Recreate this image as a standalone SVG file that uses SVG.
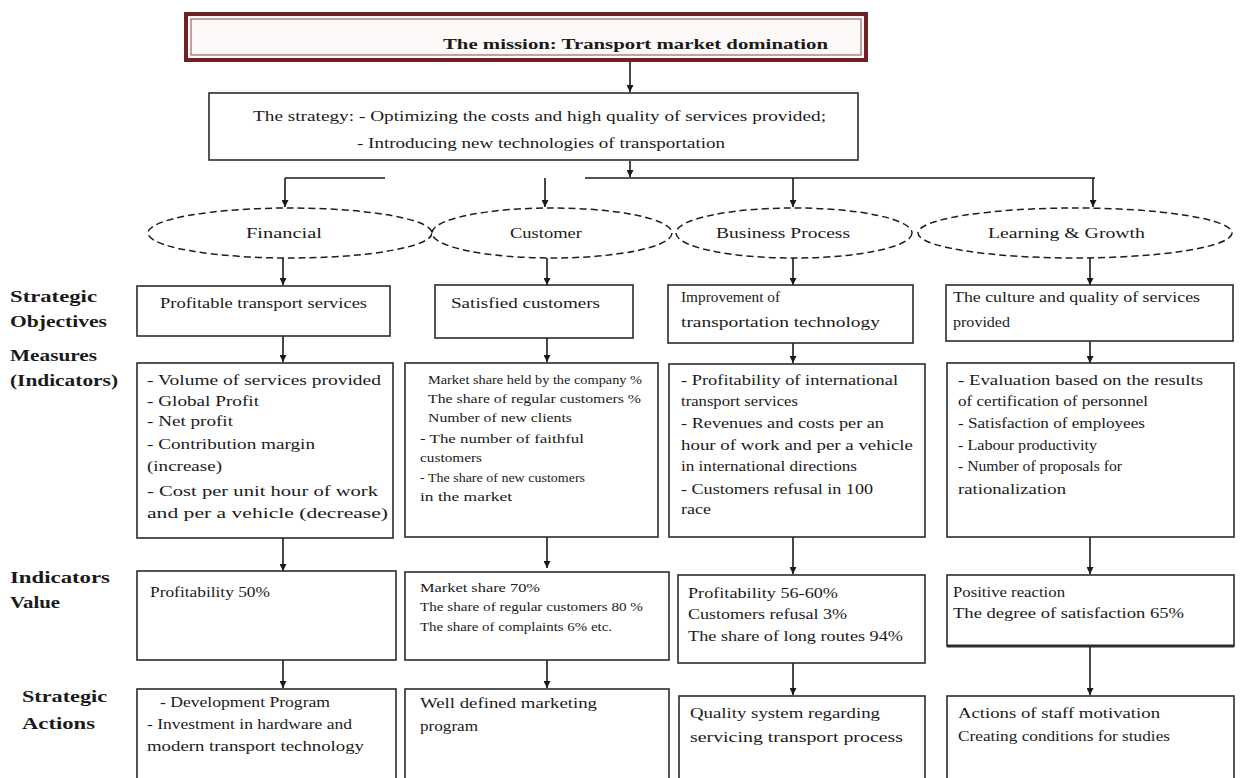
<svg xmlns="http://www.w3.org/2000/svg" width="1240" height="778" viewBox="0 0 1240 778">
<style>
.bg{fill:#ffffff}
.box{fill:#ffffff;stroke:#2b2b2b;stroke-width:1.6}
.ell{fill:#ffffff;stroke:#1e1e1e;stroke-width:1.5;stroke-dasharray:7 4}
.t{font-family:"Liberation Serif","Times New Roman",serif;font-size:14px;fill:#1a1a1a}
.s{font-family:"Liberation Serif","Times New Roman",serif;font-size:13px;fill:#1a1a1a}
.h{font-family:"Liberation Serif","Times New Roman",serif;font-size:16px;font-weight:bold;fill:#1a1a1a}
.m{font-family:"Liberation Serif","Times New Roman",serif;font-size:15px;font-weight:bold;fill:#1a1a1a}
.e{font-family:"Liberation Serif","Times New Roman",serif;font-size:15px;fill:#1a1a1a}
.c{fill:none;stroke:#1a1a1a;stroke-width:1.6}
</style>
<defs>
<marker id="ah" viewBox="0 0 10 10" refX="10" refY="5" markerWidth="7" markerHeight="7" orient="auto" markerUnits="userSpaceOnUse">
<path d="M0,0 L10,5 L0,10 z" fill="#1a1a1a"/>
</marker>
</defs>
<rect class="bg" x="0" y="0" width="1240" height="778"/>

<g id="connectors">
<line class="c" x1="630" y1="61" x2="630" y2="92" marker-end="url(#ah)"/>
<line class="c" x1="630" y1="161" x2="630" y2="177" marker-end="url(#ah)"/>
<line class="c" x1="285" y1="178" x2="385" y2="178"/>
<line class="c" x1="585" y1="178" x2="1095" y2="178"/>
<line class="c" x1="285" y1="178" x2="285" y2="207" marker-end="url(#ah)"/>
<line class="c" x1="545" y1="178" x2="545" y2="207" marker-end="url(#ah)"/>
<line class="c" x1="793" y1="178" x2="793" y2="207" marker-end="url(#ah)"/>
<line class="c" x1="1093" y1="178" x2="1093" y2="207" marker-end="url(#ah)"/>
<line class="c" x1="283" y1="258" x2="283" y2="285" marker-end="url(#ah)"/>
<line class="c" x1="547" y1="258" x2="547" y2="285" marker-end="url(#ah)"/>
<line class="c" x1="793" y1="258" x2="793" y2="285" marker-end="url(#ah)"/>
<line class="c" x1="1090" y1="258" x2="1090" y2="285" marker-end="url(#ah)"/>
<line class="c" x1="283" y1="336" x2="283" y2="362" marker-end="url(#ah)"/>
<line class="c" x1="547" y1="338" x2="547" y2="362" marker-end="url(#ah)"/>
<line class="c" x1="793" y1="343" x2="793" y2="363" marker-end="url(#ah)"/>
<line class="c" x1="1090" y1="341" x2="1090" y2="363" marker-end="url(#ah)"/>
<line class="c" x1="283" y1="538" x2="283" y2="571" marker-end="url(#ah)"/>
<line class="c" x1="547" y1="537" x2="547" y2="568" marker-end="url(#ah)"/>
<line class="c" x1="793" y1="537" x2="793" y2="574" marker-end="url(#ah)"/>
<line class="c" x1="1090" y1="537" x2="1090" y2="574" marker-end="url(#ah)"/>
<line class="c" x1="283" y1="660" x2="283" y2="688" marker-end="url(#ah)"/>
<line class="c" x1="547" y1="660" x2="547" y2="688" marker-end="url(#ah)"/>
<line class="c" x1="793" y1="663" x2="793" y2="695" marker-end="url(#ah)"/>
<line class="c" x1="1090" y1="641" x2="1090" y2="695" marker-end="url(#ah)"/>
</g>

<g id="mission">
<rect x="186" y="14" width="680" height="46" fill="#fdf9f8" stroke="#6e2226" stroke-width="4"/>
<rect x="191" y="19" width="670" height="36" fill="none" stroke="#8a4a4c" stroke-width="1"/>
<text class="m" x="443" y="49" textLength="385" lengthAdjust="spacingAndGlyphs">The mission: Transport market domination</text>
</g>

<g id="strategy">
<rect class="box" x="209" y="93" width="649" height="67"/>
<text class="t" x="253" y="121" textLength="573" lengthAdjust="spacingAndGlyphs">The strategy: - Optimizing the costs and high quality of services provided;</text>
<text class="t" x="357" y="148" textLength="368" lengthAdjust="spacingAndGlyphs">- Introducing new technologies of transportation</text>
</g>

<g id="financial">
<ellipse class="ell" cx="290" cy="233" rx="142" ry="25"/>
<text class="e" x="246" y="238" textLength="76" lengthAdjust="spacingAndGlyphs">Financial</text>
</g>
<g id="customer">
<ellipse class="ell" cx="552" cy="233" rx="120" ry="25"/>
<text class="e" x="510" y="238" textLength="72" lengthAdjust="spacingAndGlyphs">Customer</text>
</g>
<g id="business-process">
<ellipse class="ell" cx="794" cy="233" rx="118" ry="25"/>
<text class="e" x="716" y="238" textLength="134" lengthAdjust="spacingAndGlyphs">Business Process</text>
</g>
<g id="learning-growth">
<ellipse class="ell" cx="1075" cy="233" rx="157" ry="25"/>
<text class="e" x="988" y="238" textLength="157" lengthAdjust="spacingAndGlyphs">Learning &amp; Growth</text>
</g>

<g id="row-labels">
<text class="h" x="10" y="302" textLength="87" lengthAdjust="spacingAndGlyphs">Strategic</text>
<text class="h" x="10" y="327" textLength="97" lengthAdjust="spacingAndGlyphs">Objectives</text>
<text class="h" x="10" y="361" textLength="87" lengthAdjust="spacingAndGlyphs">Measures</text>
<text class="h" x="10" y="386" textLength="108" lengthAdjust="spacingAndGlyphs">(Indicators)</text>
<text class="h" x="10" y="583" textLength="100" lengthAdjust="spacingAndGlyphs">Indicators</text>
<text class="h" x="10" y="608" textLength="50" lengthAdjust="spacingAndGlyphs">Value</text>
<text class="h" x="22" y="702" textLength="85" lengthAdjust="spacingAndGlyphs">Strategic</text>
<text class="h" x="22" y="729" textLength="73" lengthAdjust="spacingAndGlyphs">Actions</text>
</g>

<!-- Column 1 -->
<g id="obj-financial">
<rect class="box" x="137" y="286" width="253" height="50"/>
<text class="t" x="160" y="308" textLength="207" lengthAdjust="spacingAndGlyphs">Profitable transport services</text>
</g>
<g id="meas-financial">
<rect class="box" x="137" y="363" width="256" height="175"/>
<text class="t" x="147" y="385" textLength="234" lengthAdjust="spacingAndGlyphs">- Volume of services provided</text>
<text class="t" x="147" y="406" textLength="112" lengthAdjust="spacingAndGlyphs">- Global Profit</text>
<text class="t" x="147" y="426" textLength="86" lengthAdjust="spacingAndGlyphs">- Net profit</text>
<text class="t" x="147" y="449" textLength="168" lengthAdjust="spacingAndGlyphs">- Contribution margin</text>
<text class="t" x="147" y="471" textLength="75" lengthAdjust="spacingAndGlyphs">(increase)</text>
<text class="t" x="147" y="496" textLength="231" lengthAdjust="spacingAndGlyphs">- Cost per unit hour of work</text>
<text class="t" x="147" y="518" textLength="241" lengthAdjust="spacingAndGlyphs">and per a vehicle (decrease)</text>
</g>
<g id="val-financial">
<rect class="box" x="137" y="571" width="259" height="89"/>
<text class="t" x="150" y="597" textLength="120" lengthAdjust="spacingAndGlyphs">Profitability 50%</text>
</g>
<g id="act-financial">
<rect class="box" x="137" y="689" width="259" height="100"/>
<text class="t" x="160" y="707" textLength="170" lengthAdjust="spacingAndGlyphs">- Development Program</text>
<text class="t" x="147" y="729" textLength="205" lengthAdjust="spacingAndGlyphs">- Investment in hardware and</text>
<text class="t" x="147" y="751" textLength="217" lengthAdjust="spacingAndGlyphs">modern transport technology</text>
</g>

<!-- Column 2 -->
<g id="obj-customer">
<rect class="box" x="435" y="285" width="198" height="53"/>
<text class="t" x="451" y="308" textLength="149" lengthAdjust="spacingAndGlyphs">Satisfied customers</text>
</g>
<g id="meas-customer">
<rect class="box" x="405" y="363" width="253" height="174"/>
<text class="s" x="428" y="384" textLength="214" lengthAdjust="spacingAndGlyphs">Market share held by the company %</text>
<text class="s" x="428" y="403" textLength="213" lengthAdjust="spacingAndGlyphs">The share of regular customers %</text>
<text class="s" x="428" y="422" textLength="144" lengthAdjust="spacingAndGlyphs">Number of new clients</text>
<text class="s" x="420" y="443" textLength="164" lengthAdjust="spacingAndGlyphs">- The number of faithful</text>
<text class="s" x="420" y="462" textLength="62" lengthAdjust="spacingAndGlyphs">customers</text>
<text class="s" x="420" y="482" textLength="165" lengthAdjust="spacingAndGlyphs">- The share of new customers</text>
<text class="s" x="420" y="501" textLength="92" lengthAdjust="spacingAndGlyphs">in the market</text>
</g>
<g id="val-customer">
<rect class="box" x="405" y="572" width="264" height="88"/>
<text class="s" x="420" y="592" textLength="120" lengthAdjust="spacingAndGlyphs">Market share 70%</text>
<text class="s" x="420" y="611" textLength="223" lengthAdjust="spacingAndGlyphs">The share of regular customers 80 %</text>
<text class="s" x="420" y="631" textLength="192" lengthAdjust="spacingAndGlyphs">The share of complaints 6% etc.</text>
</g>
<g id="act-customer">
<rect class="box" x="405" y="689" width="264" height="100"/>
<text class="t" x="420" y="708" textLength="177" lengthAdjust="spacingAndGlyphs">Well defined marketing</text>
<text class="t" x="420" y="731" textLength="58" lengthAdjust="spacingAndGlyphs">program</text>
</g>

<!-- Column 3 -->
<g id="obj-business">
<rect class="box" x="668" y="285" width="245" height="58"/>
<text class="t" x="681" y="302" textLength="99" lengthAdjust="spacingAndGlyphs">Improvement of</text>
<text class="t" x="681" y="327" textLength="199" lengthAdjust="spacingAndGlyphs">transportation technology</text>
</g>
<g id="meas-business">
<rect class="box" x="669" y="364" width="256" height="173"/>
<text class="t" x="681" y="385" textLength="217" lengthAdjust="spacingAndGlyphs">- Profitability of international</text>
<text class="t" x="681" y="406" textLength="117" lengthAdjust="spacingAndGlyphs">transport services</text>
<text class="t" x="681" y="428" textLength="203" lengthAdjust="spacingAndGlyphs">- Revenues and costs per an</text>
<text class="t" x="681" y="450" textLength="232" lengthAdjust="spacingAndGlyphs">hour of work and per a vehicle</text>
<text class="t" x="681" y="471" textLength="176" lengthAdjust="spacingAndGlyphs">in international directions</text>
<text class="t" x="681" y="494" textLength="192" lengthAdjust="spacingAndGlyphs">- Customers refusal in 100</text>
<text class="t" x="681" y="514" textLength="30" lengthAdjust="spacingAndGlyphs">race</text>
</g>
<g id="val-business">
<rect class="box" x="678" y="575" width="247" height="88"/>
<text class="t" x="688" y="598" textLength="150" lengthAdjust="spacingAndGlyphs">Profitability 56-60%</text>
<text class="t" x="688" y="619" textLength="159" lengthAdjust="spacingAndGlyphs">Customers refusal 3%</text>
<text class="t" x="688" y="641" textLength="215" lengthAdjust="spacingAndGlyphs">The share of long routes 94%</text>
</g>
<g id="act-business">
<rect class="box" x="679" y="696" width="246" height="100"/>
<text class="t" x="690" y="718" textLength="190" lengthAdjust="spacingAndGlyphs">Quality system regarding</text>
<text class="t" x="690" y="742" textLength="213" lengthAdjust="spacingAndGlyphs">servicing transport process</text>
</g>

<!-- Column 4 -->
<g id="obj-learning">
<rect class="box" x="946" y="285" width="287" height="56"/>
<text class="t" x="953" y="302" textLength="247" lengthAdjust="spacingAndGlyphs">The culture and quality of services</text>
<text class="t" x="953" y="327" textLength="57" lengthAdjust="spacingAndGlyphs">provided</text>
</g>
<g id="meas-learning">
<rect class="box" x="947" y="363" width="287" height="174"/>
<text class="t" x="958" y="385" textLength="245" lengthAdjust="spacingAndGlyphs">- Evaluation based on the results</text>
<text class="t" x="958" y="406" textLength="190" lengthAdjust="spacingAndGlyphs">of certification of personnel</text>
<text class="t" x="958" y="428" textLength="187" lengthAdjust="spacingAndGlyphs">- Satisfaction of employees</text>
<text class="t" x="958" y="450" textLength="139" lengthAdjust="spacingAndGlyphs">- Labour productivity</text>
<text class="t" x="958" y="471" textLength="164" lengthAdjust="spacingAndGlyphs">- Number of proposals for</text>
<text class="t" x="958" y="494" textLength="108" lengthAdjust="spacingAndGlyphs">rationalization</text>
</g>
<g id="val-learning">
<rect class="box" x="947" y="575" width="287" height="71"/>
<line x1="947" y1="646" x2="1234" y2="646" stroke="#2b2b2b" stroke-width="3"/>
<text class="t" x="953" y="597" textLength="112" lengthAdjust="spacingAndGlyphs">Positive reaction</text>
<text class="t" x="953" y="618" textLength="231" lengthAdjust="spacingAndGlyphs">The degree of satisfaction 65%</text>
</g>
<g id="act-learning">
<rect class="box" x="947" y="696" width="287" height="100"/>
<text class="t" x="958" y="718" textLength="202" lengthAdjust="spacingAndGlyphs">Actions of staff motivation</text>
<text class="t" x="958" y="741" textLength="212" lengthAdjust="spacingAndGlyphs">Creating conditions for studies</text>
</g>
</svg>
